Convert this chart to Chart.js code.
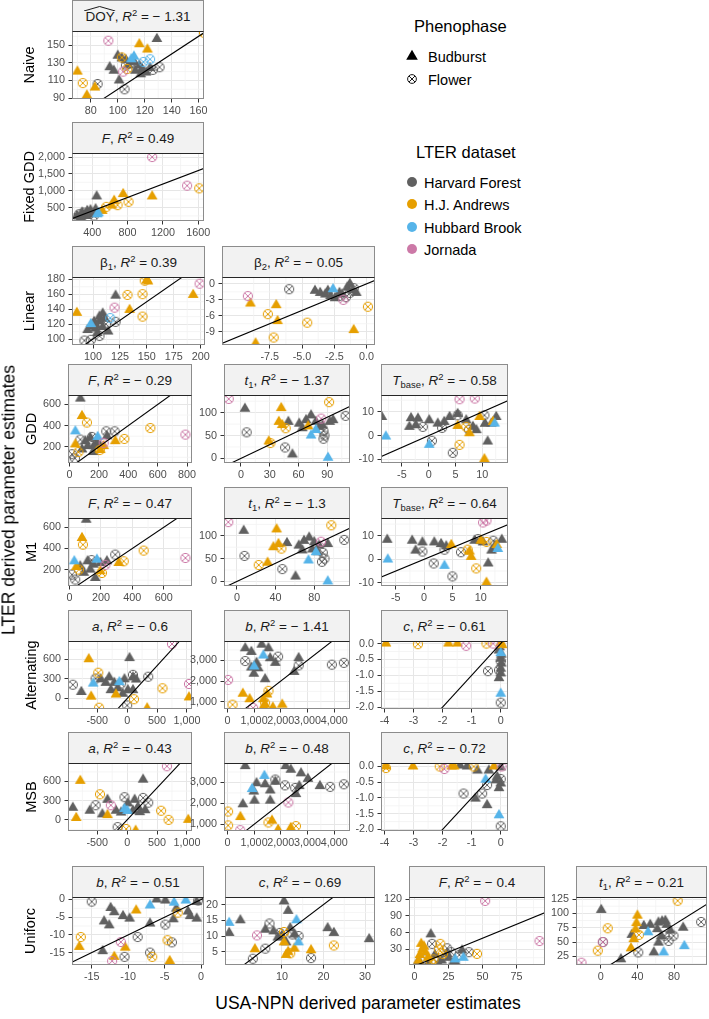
<!DOCTYPE html>
<html>
<head>
<meta charset="utf-8">
<script src="https://cdn.jsdelivr.net/npm/chart.js@4.4.1/dist/chart.umd.min.js"></script>
<style>
  html, body { margin:0; padding:0; background:#fff; }
  #fig { position:relative; width:709px; height:1019px; overflow:hidden; font-family:"Liberation Sans", Arial, sans-serif; color:#000; }
  #fig canvas { position:absolute; }
  .strip { position:absolute; box-sizing:border-box; background:#f2f2f2; border:1px solid #8c8c8c; border-bottom:1.5px solid #262626;
           display:flex; align-items:center; justify-content:center; font-size:13.5px; color:#1a1a1a; white-space:nowrap; }
  .strip sup { font-size:70%; line-height:0; vertical-align:0.55em; }
  .strip sub { font-size:70%; line-height:0; vertical-align:-0.3em; }
  .hat { position:relative; display:inline-block; }
  .hat svg { position:absolute; left:-1px; top:-3px; width:calc(100% + 2px); height:5px; }
  .vlab { position:absolute; white-space:nowrap; transform:translate(-50%,-50%) rotate(-90deg); }
  .lab { position:absolute; white-space:nowrap; }
</style>
</head>
<body>
<div id="fig"></div>
<script>
/* ---------- data: [x (USA-NPN), y (LTER), site+phase] ----------
   site: H = Harvard Forest, A = H.J. Andrews, B = Hubbard Brook, J = Jornada
   phase: b = Budburst, f = Flower */

const rowLabels  = ['Naive', 'Fixed GDD', 'Linear', 'GDD', 'M1', 'Alternating', 'MSB', 'Uniforc'];
const siteNames  = ['Harvard Forest', 'H.J. Andrews', 'Hubbard Brook', 'Jornada'];
const phaseNames = ['Budburst', 'Flower'];

const hat = '<span class="hat">DOY<svg viewBox="0 0 100 10" preserveAspectRatio="none"><polyline points="0,10 50,1 100,10" fill="none" stroke="#1a1a1a" stroke-width="1" vector-effect="non-scaling-stroke"/></svg></span>';
const R2 = '<i>R</i><sup>2</sup>';
const stripTitles = [
  hat + ', ' + R2 + ' = &minus; 1.31',
  '<i>F</i>, ' + R2 + ' = 0.49',
  '&beta;<sub>1</sub>, ' + R2 + ' = 0.39',
  '&beta;<sub>2</sub>, ' + R2 + ' = &minus; 0.05',
  '<i>F</i>, ' + R2 + ' = &minus; 0.29',
  '<i>t</i><sub>1</sub>, ' + R2 + ' = &minus; 1.37',
  '<i>T</i><sub>base</sub>, ' + R2 + ' = &minus; 0.58',
  '<i>F</i>, ' + R2 + ' = &minus; 0.47',
  '<i>t</i><sub>1</sub>, ' + R2 + ' = &minus; 1.3',
  '<i>T</i><sub>base</sub>, ' + R2 + ' = &minus; 0.64',
  '<i>a</i>, ' + R2 + ' = &minus; 0.6',
  '<i>b</i>, ' + R2 + ' = &minus; 1.41',
  '<i>c</i>, ' + R2 + ' = &minus; 0.61',
  '<i>a</i>, ' + R2 + ' = &minus; 0.43',
  '<i>b</i>, ' + R2 + ' = &minus; 0.48',
  '<i>c</i>, ' + R2 + ' = &minus; 0.72',
  '<i>b</i>, ' + R2 + ' = &minus; 0.51',
  '<i>c</i>, ' + R2 + ' = &minus; 0.69',
  '<i>F</i>, ' + R2 + ' = &minus; 0.4',
  '<i>t</i><sub>1</sub>, ' + R2 + ' = &minus; 0.21'
];

const naiveDOY = [[93,155,'Jf'],[70,120,'Ab'],[74,107,'Af'],[77,93,'Ab'],[83,102,'Ab'],[85,106,'Hf'],[116,151,'Ab'],[122,145,'Ab'],[129,157,'Hb'],[164,164,'Af'],
  [94,125,'Hb'],[97,121,'Hb'],[101,110,'Hb'],[100,138,'Hb'],[106,133,'Hb'],[103,135,'Hb'],[108,127,'Hb'],[112,131,'Hb'],[116,127,'Hb'],[118,123,'Hb'],
  [121,119,'Hb'],[124,124,'Hb'],[113,121,'Hb'],[117,117,'Hb'],[105,100,'Hf'],[106,127,'Hf'],[131,125,'Hf'],[126,122,'Hf'],[110,130,'Hf'],[107,123,'Af'],
  [103,136,'Af'],[112,137,'Bb'],[124,134,'Bf'],[110,134,'Bb'],[104,120,'Jf'],[119,131,'Bf']];
const naiveDOY_xTicks = [80, 100, 120, 140, 160];
const naiveDOY_yTicks = [90, 110, 130, 150];

const fixedF = [[1078,2000,'Jf'],[1474,1150,'Jf'],[1611,1070,'Af'],[1078,830,'Ab'],[750,900,'Ab'],[811,670,'Af'],[648,700,'Ab'],[686,570,'Af'],[514,400,'Ab'],
  [560,520,'Af'],[620,560,'Ab'],[450,830,'Hb'],[229,250,'Hb'],[286,350,'Hb'],[343,400,'Hb'],[400,300,'Hb'],[267,200,'Hb'],[320,280,'Hb'],[438,450,'Hb'],
  [380,420,'Hb'],[250,300,'Hf'],[300,350,'Hf'],[210,180,'Hf'],[360,330,'Hf'],[420,260,'Hf'],[457,300,'Bb'],[470,330,'Bb'],[330,250,'Hb'],[280,220,'Hf']];
const fixedF_xTicks = [400, 800, 1200, 1600];
const fixedF_yTicks = [500, 1000, 1500, 2000];

const linB1 = [[85,135,'Ab'],[150,179,'Ab'],[151,177,'Ab'],[148,178,'Af'],[199,174,'Jf'],[193,159,'Ab'],[132,159,'Af'],[146,160,'Af'],[121,158,'Hb'],[120,142,'Jf'],
  [134,139,'Ab'],[146,130,'Af'],[100,117,'Hb'],[101,123,'Hb'],[106,130,'Hb'],[109,134,'Hb'],[106,124,'Hb'],[102,114,'Hb'],[109,116,'Hb'],[114,110,'Hb'],
  [95,112,'Hb'],[104,108,'Hb'],[111,127,'Hb'],[98,120,'Bb'],[116,128,'Bf'],[92,98,'Hf'],[98,99,'Hf'],[106,104,'Hf'],[121,123,'Hf'],[112,120,'Hf'],[103,118,'Hb']];
const linB1_xTicks = [100, 125, 150, 175, 200];
const linB1_yTicks = [100, 120, 140, 160, 180];

const linB2 = [[-9.2,-2.3,'Jf'],[-9,-3.7,'Ab'],[-8.6,-11.2,'Ab'],[-7.65,-5.7,'Af'],[-7,-4,'Ab'],[-6.9,-7,'Ab'],[-7.2,-10.1,'Af'],[-6,-1,'Hf'],[-4.6,-7.3,'Af'],
  [-1,-8.7,'Ab'],[0.1,-4.3,'Af'],[-1.8,-3,'Jf'],[-4,-1.3,'Hb'],[-3.6,-1.7,'Hb'],[-3.2,-2,'Hb'],[-2.8,-2.3,'Hb'],[-2.45,-2.7,'Hb'],[-2.1,-1.7,'Hb'],
  [-1.5,-0.7,'Hb'],[-1.3,0,'Hb'],[-1.1,-1.2,'Hb'],[-1.9,-2,'Hb'],[-3,-1.3,'Hb'],[-0.8,-1.7,'Hb'],[-2.6,-1,'Bb'],[-2.1,-2.3,'Hf'],[-1.3,-1.7,'Hf'],
  [-1,-0.8,'Hf'],[-1.6,-2.5,'Hf']];
const linB2_xTicks = [-7.5, -5, -2.5, 0];
const linB2_yTicks = [-9, -6, -3, 0];

const gddF = [[73,656,'Hb'],[84,491,'Ab'],[118,429,'Af'],[373,274,'Af'],[550,377,'Af'],[789,315,'Jf'],[39,346,'Bb'],[39,222,'Ab'],[191,293,'Bb'],
  [107,253,'Hb'],[141,284,'Hb'],[186,237,'Hb'],[164,206,'Hb'],[255,299,'Hb'],[123,206,'Hb'],[84,175,'Hb'],[209,206,'Hb'],[160,150,'Hb'],
  [73,268,'Hf'],[152,293,'Hf'],[250,346,'Hf'],[307,346,'Hf'],[16,129,'Hf'],[36,90,'Hf'],[232,206,'Ab'],[311,253,'Ab'],[209,169,'Ab'],[205,169,'Af'],
  [60,150,'Af'],[232,237,'Jf']];
const gddF_xTicks = [0, 200, 400, 600, 800];
const gddF_yTicks = [200, 400, 600];

const gddT1 = [[-12.7,130,'Jf'],[4.2,108.6,'Hb'],[6,57,'Hf'],[29,37,'Ab'],[30.7,33.6,'Af'],[42,110,'Ab'],[39.5,80,'Ab'],[43,73,'Ab'],[46.6,66,'Af'],[49.4,80,'Hb'],
  [46,24,'Hf'],[53.6,8.6,'Hb'],[60.7,76,'Hb'],[67.8,83.6,'Hb'],[73,94,'Hb'],[78,80,'Hb'],[82,69,'Hb'],[92.5,80,'Hb'],[64,66,'Hb'],[85,72,'Hb'],[96,83.6,'Hb'],
  [83.6,87,'Jf'],[73,50,'Bb'],[90.7,1.4,'Bb'],[78,62,'Bb'],[86,60,'Hf'],[87,50,'Hf'],[86,43,'Hf'],[109,93,'Hf'],[91.8,123,'Af'],[70,70,'Ab']];
const gddT1_xTicks = [0, 30, 60, 90];
const gddT1_yTicks = [0, 50, 100];

const gddTbase = [[-8.75,7.9,'Hb'],[-8,-0.4,'Bb'],[-3.3,7.4,'Hb'],[-2,7.2,'Hb'],[-3.6,3.7,'Hb'],[-2.4,4.4,'Hb'],[-1.1,3.7,'Hf'],[0.6,-2.2,'Hf'],[4.5,-7.3,'Hf'],
  [2.5,3.3,'Hf'],[0.1,6.5,'Hb'],[1.7,5.1,'Hb'],[2.9,5.8,'Hb'],[3.9,7.9,'Hb'],[5.4,9.2,'Hb'],[7,6.5,'Hb'],[8.25,3.7,'Hb'],[8.9,2.3,'Hb'],[11,-2.5,'Hb'],
  [11.7,5.1,'Hb'],[12.6,7.9,'Hb'],[10.5,5,'Hb'],[0.1,-3.9,'Bb'],[12.3,5.1,'Bb'],[5.4,4.1,'Ab'],[7.6,1,'Ab'],[9.5,7.9,'Ab'],[10.4,-10,'Ab'],[12,5.8,'Ab'],
  [5.75,-3.9,'Af'],[7,3.7,'Af'],[5.75,15.4,'Jf'],[8.6,15.7,'Jf'],[5.4,8.6,'Hf'],[10.4,8.6,'Hf'],[7.5,2.5,'Hf']];
const gddTbase_xTicks = [-5, 0, 5, 10];
const gddTbase_yTicks = [-10, 0, 10];

const m1F = [[106,672,'Hb'],[79,499,'Ab'],[85,436,'Af'],[472,380,'Af'],[738,310,'Jf'],[30,279,'Bb'],[43,225,'Ab'],[174,294,'Bb'],[291,342,'Hf'],[345,279,'Af'],
  [313,263,'Ab'],[115,279,'Hb'],[153,247,'Hb'],[196,263,'Hb'],[238,279,'Hb'],[132,200,'Hb'],[164,121,'Hb'],[68,231,'Hb'],[90,170,'Hb'],[196,184,'Ab'],
  [206,168,'Af'],[15,153,'Hf'],[36,106,'Hf'],[228,245,'Jf'],[140,290,'Hf'],[60,200,'Af']];
const m1F_xTicks = [0, 200, 400, 600];
const m1F_yTicks = [200, 400, 600];

const m1T1 = [[-9,130,'Jf'],[7,111,'Hb'],[7.8,56,'Hf'],[22.5,36,'Af'],[31.7,41,'Ab'],[41,114,'Ab'],[37.7,75,'Ab'],[43,82,'Ab'],[46,72,'Af'],[51.8,84,'Hb'],
  [47,27,'Hf'],[60.6,10.7,'Hb'],[64,78.6,'Hb'],[69.4,89,'Hb'],[74.7,96,'Hb'],[80,86,'Hb'],[85,78.6,'Hb'],[94,82,'Hb'],[67.7,68,'Hb'],[83.5,64,'Hb'],[78,70,'Hb'],
  [87,87,'Jf'],[74,46,'Bb'],[94,0,'Bb'],[81.8,64,'Bb'],[88.8,63,'Hf'],[90.6,50,'Hf'],[88,43,'Hf'],[111,91,'Hf'],[97.6,123,'Af']];
const m1T1_xTicks = [0, 40, 80];
const m1T1_yTicks = [0, 50, 100];

const m1Tbase = [[-6.5,8.3,'Hb'],[-6.4,-0.1,'Bb'],[-2.1,7.9,'Hb'],[-0.3,7.2,'Hb'],[-1.5,3.7,'Hb'],[1.8,7.2,'Hb'],[3.9,5.5,'Hb'],[3,6.5,'Hb'],[8.9,7.9,'Hb'],
  [10.4,7.2,'Hb'],[11.9,3.7,'Hb'],[11.3,-1.8,'Hb'],[13.7,8.3,'Hb'],[12.5,5.8,'Hb'],[-0.3,3.3,'Hf'],[1.7,-1.8,'Hf'],[5,-7.3,'Hf'],[3.6,4.1,'Hf'],[6.5,3,'Hf'],
  [9.5,8.6,'Hf'],[12.2,7.9,'Hf'],[3.6,-2.8,'Bb'],[13,4.4,'Bb'],[4.8,6.1,'Ab'],[8,3.3,'Ab'],[8.3,1,'Ab'],[10,7.9,'Ab'],[11,-10,'Ab'],[12.8,6.1,'Ab'],
  [7.7,4.1,'Af'],[9.2,-3.9,'Af'],[11,7.4,'Af'],[10.4,15.7,'Jf'],[11,16.5,'Jf']];
const m1Tbase_xTicks = [-5, 0, 5, 10];
const m1Tbase_yTicks = [-10, 0, 10];

const altA = [[-909,211,'Hf'],[-767,100,'Hb'],[-642,600,'Ab'],[-602,28,'Ab'],[-568,228,'Bb'],[-528,305,'Hf'],[-483,394,'Af'],[-443,294,'Hb'],[-358,239,'Hb'],
  [-273,128,'Hb'],[-216,239,'Hb'],[-301,322,'Hb'],[-159,156,'Hb'],[-45,294,'Hb'],[40,617,'Hb'],[97,322,'Hb'],[150,290,'Hb'],[11,128,'Hb'],[-74,72,'Hb'],
  [97,128,'Hb'],[-187,61,'Ab'],[-130,250,'Bb'],[97,361,'Hf'],[352,333,'Hf'],[0,-105,'Hf'],[114,-11,'Af'],[591,156,'Af'],[750,833,'Jf'],[1034,222,'Jf'],
  [1034,17,'Ab'],[-470,-140,'Af'],[335,-150,'Ab'],[-100,230,'Hf']];
const altA_xTicks = [-500, 0, 500, 1000];
const altA_yTicks = [0, 300, 600];

const altB = [[26,2053,'Jf'],[192,860,'Af'],[577,1386,'Ab'],[833,1123,'Ab'],[667,3579,'Hb'],[897,3403,'Hb'],[1282,3754,'Hb'],[1538,3579,'Hb'],[1090,2877,'Hb'],
  [987,2351,'Hb'],[1410,2088,'Hb'],[1795,2877,'Hb'],[1154,2614,'Hb'],[897,2650,'Hb'],[1600,3100,'Hb'],[667,2965,'Hf'],[1897,3175,'Hf'],[1346,3228,'Bb'],
  [1000,2700,'Bb'],[1538,1526,'Af'],[1410,947,'Af'],[1346,1123,'Ab'],[1410,860,'Ab'],[2051,860,'Ab'],[1480,1350,'Ab'],[2667,3105,'Hb'],[2500,2439,'Hb'],
  [2667,2754,'Hf'],[3910,2789,'Hf'],[4359,2877,'Hf'],[961,700,'Jf'],[1350,760,'Ab'],[1700,720,'Ab']];
const altB_xTicks = [0, 1000, 2000, 3000, 4000];
const altB_yTicks = [1000, 2000, 3000];

const altC = [[-3.95,0,'Ab'],[-2.85,-0.02,'Af'],[-1.8,0,'Ab'],[-1.49,0,'Ab'],[-1.19,-0.07,'Jf'],[-0.49,0,'Af'],[-0.26,0,'Jf'],[0,0.02,'Ab'],[0.05,-0.05,'Ab'],
  [-0.06,-0.22,'Hb'],[0,-0.48,'Hb'],[0.02,-0.63,'Hb'],[0,-0.79,'Hb'],[0,-0.94,'Hb'],[-0.06,-1.09,'Hb'],[0.02,-0.35,'Hb'],[-0.04,-0.12,'Hb'],
  [-0.44,-0.87,'Hf'],[-0.06,-0.84,'Hf'],[0,-0.55,'Hf'],[0,-1.58,'Bb'],[0,-0.3,'Bb'],[0,-1.86,'Hf']];
const altC_xTicks = [-4, -3, -2, -1, 0];
const altC_yTicks = [-2, -1.5, -1, -0.5, 0];

const msbA = [[-909,189,'Hb'],[-784,611,'Ab'],[-852,29,'Ab'],[-625,143,'Hb'],[-528,229,'Hf'],[-455,400,'Af'],[-273,229,'Jf'],[-330,314,'Hb'],[-415,86,'Hb'],
  [-187,143,'Hb'],[11,257,'Hb'],[125,314,'Hb'],[180,200,'Hb'],[267,629,'Hb'],[-102,114,'Hb'],[97,143,'Hb'],[210,120,'Hb'],[300,150,'Hb'],[-45,171,'Bb'],
  [5,140,'Bb'],[-330,74,'Ab'],[-45,354,'Hf'],[267,343,'Hf'],[352,269,'Hf'],[-159,-114,'Hf'],[-17,-143,'Af'],[568,143,'Af'],[693,0,'Af'],[665,840,'Jf'],
  [1023,0,'Ab'],[142,-171,'Ab']];
const msbA_xTicks = [-500, 0, 500, 1000];
const msbA_yTicks = [0, 300, 600];

const msbB = [[667,3783,'Hb'],[1385,3313,'Bb'],[923,2687,'Bb'],[1090,2965,'Hb'],[987,2565,'Hb'],[1013,2130,'Hb'],[1603,2617,'Hb'],[1795,3035,'Hb'],[2180,3783,'Hb'],
  [2372,3609,'Hb'],[2756,3435,'Hb'],[3013,3174,'Hb'],[2692,2826,'Hb'],[3462,2826,'Hb'],[2564,2443,'Hb'],[1603,2130,'Hb'],[1410,2913,'Hb'],[577,1957,'Hb'],
  [1795,3139,'Hf'],[2154,2861,'Hf'],[2539,2739,'Hf'],[3846,2791,'Hf'],[4359,2913,'Hf'],[2282,2043,'Jf'],[26,1609,'Af'],[26,948,'Af'],[1538,1087,'Af'],
  [487,1348,'Ab'],[1667,1174,'Ab'],[1897,739,'Ab'],[2372,826,'Ab'],[2564,913,'Af'],[480,720,'Jf']];
const msbB_xTicks = [0, 1000, 2000, 3000, 4000];
const msbB_yTicks = [1000, 2000, 3000];

const msbC = [[-3.95,0,'Ab'],[-3.95,-0.05,'Af'],[-3.02,0,'Ab'],[-2.1,0,'Af'],[-1.94,-0.08,'Jf'],[-1.69,0,'Ab'],[-1.6,0,'Ab'],[-1.4,0.03,'Hb'],[-1.16,0,'Hb'],
  [-0.8,-0.13,'Hb'],[-0.41,-0.13,'Hb'],[0,-0.03,'Hb'],[-0.17,-0.44,'Hb'],[0,-0.54,'Hb'],[-0.06,-0.69,'Hb'],[-0.12,-0.33,'Hb'],[-0.93,0,'Af'],[-0.23,0,'Ab'],
  [-0.47,-0.59,'Hf'],[-1.28,-0.86,'Hf'],[-0.64,-0.86,'Hf'],[0,-0.4,'Hf'],[-0.87,-1.02,'Hb'],[-0.47,-1.23,'Hb'],[-0.52,-0.42,'Bb'],[-0.06,-1.55,'Bb'],
  [0,-1.9,'Hf'],[0.03,0,'Jf']];
const msbC_xTicks = [-4, -3, -2, -1, 0];
const msbC_yTicks = [-2, -1.5, -1, -0.5, 0];

const uniB = [[-15,-0.6,'Hf'],[-12.4,-2.4,'Hb'],[-11.9,-3.6,'Hb'],[-13.3,-6.2,'Hb'],[-12.6,-7.3,'Hb'],[-10.7,-4.7,'Hb'],[-9.8,-5.4,'Hb'],[-6.1,0,'Hb'],
  [-4.9,-0.3,'Hb'],[-3.4,-2.6,'Hb'],[-1.8,-3.4,'Hb'],[-1.5,-4.7,'Hb'],[-0.6,-5.4,'Hb'],[-0.6,-0.7,'Hb'],[-3.8,-5.6,'Hb'],[-7,-6.8,'Hb'],[-13.5,-14.6,'Hb'],
  [-8.9,-3.1,'Ab'],[-16.7,-13.4,'Ab'],[-10.4,-13.6,'Ab'],[-11.9,-16.2,'Ab'],[-4.3,-17.4,'Ab'],[-7,-1.7,'Bb'],[-3.7,-0.9,'Bb'],[-2.1,-0.3,'Bb'],
  [-16.5,-10.6,'Af'],[-3.2,-3.7,'Af'],[-4.6,-11.5,'Af'],[-6.7,-16.2,'Af'],[-8.7,-10.6,'Hf'],[-10.5,-16.2,'Hf'],[-7,-15,'Hf'],[-4.9,-7.1,'Hf'],
  [-4,-12.1,'Hf'],[-0.4,-0.3,'Hf'],[-11,-12,'Jf'],[-12.2,-17.4,'Jf']];
const uniB_xTicks = [-15, -10, -5, 0];
const uniB_yTicks = [-15, -10, -5, 0];

const uniC = [[-2.7,14.2,'Bb'],[0,15,'Hb'],[-2.7,11,'Hb'],[4,10.2,'Jf'],[3.5,5.8,'Ab'],[3,2.8,'Hf'],[6,6,'Hf'],[6,12,'Hb'],[8,11.5,'Hb'],[9,9.5,'Hb'],
  [10.5,21,'Hb'],[11.5,18,'Hb'],[12,12.5,'Hb'],[13,10.5,'Hb'],[10,10,'Hb'],[11,8,'Hb'],[7,14,'Hf'],[9.5,11,'Hf'],[12.5,10.5,'Hf'],[14,10,'Hf'],[13.5,15,'Bb'],
  [14,8,'Bb'],[10.5,11.3,'Af'],[12,4.5,'Af'],[22.5,7,'Af'],[10.5,8,'Ab'],[11.5,5,'Ab'],[13,6,'Ab'],[17,5.5,'Ab'],[11,4,'Ab'],[21,12.5,'Hb'],[22.5,11,'Hb'],
  [31,9,'Hb'],[17,3,'Hf']];
const uniC_xTicks = [10, 20, 30];
const uniC_yTicks = [5, 10, 15, 20];

const uniF = [[52,117,'Jf'],[92,45,'Jf'],[46,22,'Af'],[12,57,'Hb'],[5,40,'Ab'],[6,30,'Ab'],[8,25,'Ab'],[4,20,'Ab'],[3,10,'Ab'],[10,15,'Ab'],[7,35,'Ab'],
  [19,40,'Af'],[18,30,'Af'],[21,22,'Af'],[14,12,'Af'],[12,8,'Af'],[15,20,'Hb'],[20,10,'Hb'],[25,15,'Hb'],[30,8,'Hb'],[35,28,'Hb'],[28,5,'Hb'],[18,3,'Hb'],
  [10,3,'Hb'],[2,5,'Hb'],[5,2,'Hb'],[24,22,'Hb'],[13,40,'Hf'],[24,32,'Hf'],[33,20,'Hf'],[8,12,'Hf'],[16,8,'Hf'],[27,25,'Hf'],[40,25,'Hf'],[36,15,'Bb'],[30,12,'Bb']];
const uniF_xTicks = [0, 25, 50, 75];
const uniF_yTicks = [30, 60, 90, 120];

const uniT1 = [[-21,14,'Jf'],[0.5,106,'Hb'],[7.6,74,'Af'],[2.2,50,'Jf'],[2.5,50,'Hf'],[-3.2,35,'Af'],[22,20,'Hb'],[40,96,'Ab'],[39,83,'Ab'],[38,72,'Ab'],
  [33,39,'Ab'],[36,55,'Ab'],[33.9,62.6,'Hb'],[41.7,62.6,'Af'],[41,32,'Hf'],[47,78,'Hb'],[54,80,'Hb'],[63,84,'Hb'],[67,86,'Hb'],[70.5,87,'Hb'],[61.7,72.5,'Hb'],
  [72,80,'Hb'],[76,70,'Hb'],[63,49,'Hb'],[58,32,'Hb'],[90,75,'Hb'],[66,60,'Hb'],[51.7,67,'Bb'],[68.7,32,'Bb'],[91.3,43,'Bb'],[69.7,61,'Hf'],[79.4,61,'Hf'],
  [74,52,'Hf'],[84,122,'Af'],[109.6,85,'Hf']];
const uniT1_xTicks = [0, 40, 80];
const uniT1_yTicks = [25, 50, 75, 100, 125];

// xr / yr = axis limits; fx / fy = [decimals, thousands comma]
const panels = [
  { row:0, col:0, pts:naiveDOY, xt:naiveDOY_xTicks, yt:naiveDOY_yTicks, xr:[66,164],     yr:[89,166],      fx:[0,false], fy:[0,false] },
  { row:1, col:0, pts:fixedF,   xt:fixedF_xTicks,   yt:fixedF_yTicks,   xr:[171,1665],   yr:[100,2120],    fx:[0,false], fy:[0,true]  },
  { row:2, col:0, pts:linB1,    xt:linB1_xTicks,    yt:linB1_yTicks,    xr:[80.5,204],   yr:[92,183],      fx:[0,false], fy:[0,false] },
  { row:2, col:1, pts:linB2,    xt:linB2_xTicks,    yt:linB2_yTicks,    xr:[-11.2,0.65], yr:[-11.5,1.3],   fx:[1,false], fy:[0,false] },
  { row:3, col:0, pts:gddF,     xt:gddF_xTicks,     yt:gddF_yTicks,     xr:[-11,834],    yr:[46,690],      fx:[0,false], fy:[0,false] },
  { row:3, col:1, pts:gddT1,    xt:gddT1_xTicks,    yt:gddT1_yTicks,    xr:[-17.6,113.6],yr:[-10,138.6],   fx:[0,false], fy:[0,false] },
  { row:3, col:2, pts:gddTbase, xt:gddTbase_xTicks, yt:gddTbase_yTicks, xr:[-8.9,14.8],  yr:[-11.6,17.2],  fx:[0,false], fy:[0,false] },
  { row:4, col:0, pts:m1F,      xt:m1F_xTicks,      yt:m1F_yTicks,      xr:[-10,780],    yr:[45,688],      fx:[0,false], fy:[0,false] },
  { row:4, col:1, pts:m1T1,     xt:m1T1_xTicks,     yt:m1T1_yTicks,     xr:[-13.4,117],  yr:[-10,139],     fx:[0,false], fy:[0,false] },
  { row:4, col:2, pts:m1Tbase,  xt:m1Tbase_xTicks,  yt:m1Tbase_yTicks,  xr:[-7.6,14.8],  yr:[-11.4,17.6],  fx:[0,false], fy:[0,false] },
  { row:5, col:0, pts:altA,     xt:altA_xTicks,     yt:altA_yTicks,     xr:[-990,1085],  yr:[-160,878],    fx:[0,true],  fy:[0,false] },
  { row:5, col:1, pts:altB,     xt:altB_xTicks,     yt:altB_yTicks,     xr:[-128,4590],  yr:[650,3930],    fx:[0,true],  fy:[0,true]  },
  { row:5, col:2, pts:altC,     xt:altC_xTicks,     yt:altC_yTicks,     xr:[-4.12,0.25], yr:[-2.06,0.08],  fx:[0,false], fy:[1,false] },
  { row:6, col:0, pts:msbA,     xt:msbA_xTicks,     yt:msbA_yTicks,     xr:[-990,1085],  yr:[-175,890],    fx:[0,true],  fy:[0,false] },
  { row:6, col:1, pts:msbB,     xt:msbB_xTicks,     yt:msbB_yTicks,     xr:[-128,4590],  yr:[680,3930],    fx:[0,true],  fy:[0,true]  },
  { row:6, col:2, pts:msbC,     xt:msbC_xTicks,     yt:msbC_yTicks,     xr:[-4.12,0.25], yr:[-2.05,0.11],  fx:[0,false], fy:[1,false] },
  { row:7, col:0, pts:uniB,     xt:uniB_xTicks,     yt:uniB_yTicks,     xr:[-17.7,0.4],  yr:[-18.5,0.7],   fx:[0,false], fy:[0,false] },
  { row:7, col:1, pts:uniC,     xt:uniC_xTicks,     yt:uniC_yTicks,     xr:[-3.7,32.4],  yr:[0.8,22.4],    fx:[0,false], fy:[0,false] },
  { row:7, col:2, pts:uniF,     xt:uniF_xTicks,     yt:uniF_yTicks,     xr:[-4,96],      yr:[2,124],       fx:[0,false], fy:[0,false] },
  { row:7, col:3, pts:uniT1,    xt:uniT1_xTicks,    yt:uniT1_yTicks,    xr:[-27,116],    yr:[10,128.5],    fx:[0,false], fy:[0,false] }
];

/* ---------- layout ---------- */
const ROW_TOP = [0, 122, 246, 364, 487, 610, 732, 866];
const STRIP_H = 31, PLOT_H = 68;
const ROW_COLS = [
  [[72,204]],
  [[72,204]],
  [[72,205],[222,375]],
  [[68,192],[224,350],[381,508]],
  [[68,192],[224,350],[381,508]],
  [[68,192],[224,350],[381,508]],
  [[68,192],[224,350],[381,508]],
  [[72,204],[225,375],[409,545],[576,707]]
];
const ROW_LAB_X = [29, 29, 29, 31, 31, 31, 31, 30];
const YW = 50, PADT = 6, PADR = 16, XH = 22;
const FONT = 'Liberation Sans';
const COLORS = { H:'#606060', A:'#E69F00', B:'#56B4E9', J:'#CC79A7' };

const fig = document.getElementById('fig');

function fmt(v, dec, comma) {
  const a = Math.abs(v);
  const s = comma ? a.toLocaleString('en-US', { minimumFractionDigits:dec, maximumFractionDigits:dec }) : a.toFixed(dec);
  return (v < 0 ? '-' : '') + s;
}

function marker(color, phase) {
  const c = document.createElement('canvas');
  c.width = c.height = 14;
  const g = c.getContext('2d');
  if (phase === 'b') {
    const s = 10.8, h = s * Math.sqrt(3) / 2;
    g.fillStyle = color;
    g.beginPath();
    g.moveTo(7, 7 - 2 * h / 3);
    g.lineTo(7 + s / 2, 7 + h / 3);
    g.lineTo(7 - s / 2, 7 + h / 3);
    g.closePath();
    g.fill();
  } else {
    const r = 4.6, d = r * 0.72;
    g.strokeStyle = color;
    g.lineWidth = 1;
    g.beginPath(); g.arc(7, 7, r, 0, Math.PI * 2); g.stroke();
    g.beginPath();
    g.moveTo(7 - d, 7 - d); g.lineTo(7 + d, 7 + d);
    g.moveTo(7 + d, 7 - d); g.lineTo(7 - d, 7 + d);
    g.stroke();
  }
  return c;
}
const MARKS = {};
for (const s of 'HABJ') for (const ph of 'bf') MARKS[s + ph] = marker(COLORS[s], ph);

// minor grid lines + panel border, ggplot style
const panelDeco = {
  id: 'panelDeco',
  beforeDatasetsDraw(chart) {
    const { ctx, chartArea: a, scales } = chart;
    ctx.save();
    ctx.strokeStyle = '#f3f3f3';
    ctx.lineWidth = 0.8;
    for (const id of ['x', 'y']) {
      const sc = scales[id];
      const t = sc.ticks.map(k => k.value);
      const d = t[1] - t[0];
      for (let v = t[0] - d / 2; v <= sc.max; v += d) {
        if (v < sc.min) continue;
        const p = sc.getPixelForValue(v);
        ctx.beginPath();
        if (id === 'x') { ctx.moveTo(p, a.top); ctx.lineTo(p, a.bottom); }
        else { ctx.moveTo(a.left, p); ctx.lineTo(a.right, p); }
        ctx.stroke();
      }
    }
    ctx.restore();
  },
  afterDatasetsDraw(chart) {
    const { ctx, chartArea: a } = chart;
    ctx.save();
    ctx.strokeStyle = '#8c8c8c';
    ctx.lineWidth = 1;
    ctx.strokeRect(a.left + 0.5, a.top + 0.5, a.right - a.left - 1, a.bottom - a.top - 1);
    ctx.restore();
  }
};

function axis(range, ticks, f, dir) {
  return {
    type: 'linear', min: range[0], max: range[1],
    afterBuildTicks: s => { s.ticks = ticks.map(v => ({ value: v })); },
    afterFit: s => {
      if (dir === 'x') s.height = XH; else s.width = YW;
      s.paddingLeft = s.paddingRight = s.paddingTop = s.paddingBottom = 0;
    },
    border: { display: false },
    grid: { color: '#e6e6e6', lineWidth: 1, drawTicks: true, tickLength: 3.5, tickColor: '#333', tickWidth: 1 },
    ticks: {
      color: '#4d4d4d', font: { size: 10.8, family: FONT },
      padding: dir === 'x' ? 2.5 : 3.5,
      autoSkip: false, maxRotation: 0, minRotation: 0,
      callback: v => fmt(v, f[0], f[1])
    }
  };
}

const DRAW_ORDER = ['Jf', 'Jb', 'Bf', 'Bb', 'Af', 'Ab', 'Hf', 'Hb'];

panels.forEach((p, i) => {
  const [L, R] = ROW_COLS[p.row][p.col];
  const top = ROW_TOP[p.row];
  const T = top + STRIP_H;

  const cv = document.createElement('canvas');
  const w = R - L + YW + PADR, h = PLOT_H + PADT + XH;
  cv.width = w; cv.height = h;
  cv.style.left = (L - YW) + 'px';
  cv.style.top = (T - PADT) + 'px';
  cv.style.width = w + 'px';
  cv.style.height = h + 'px';
  fig.appendChild(cv);

  const lo = Math.min(p.xr[0], p.yr[0]), hi = Math.max(p.xr[1], p.yr[1]);
  const datasets = [{
    type: 'line', data: [{ x: lo, y: lo }, { x: hi, y: hi }],
    borderColor: '#000', borderWidth: 1.1, pointRadius: 0, clip: 0
  }];
  for (const code of DRAW_ORDER) {
    const pts = p.pts.filter(d => d[2] === code).map(d => ({ x: d[0], y: d[1] }));
    if (pts.length) datasets.push({ data: pts, pointStyle: MARKS[code], pointRadius: 5, clip: 0 });
  }

  new Chart(cv, {
    type: 'scatter',
    data: { datasets },
    options: {
      responsive: false, animation: false, devicePixelRatio: 1, events: [],
      layout: { padding: { left: 0, top: PADT, right: PADR, bottom: 0 } },
      plugins: { legend: { display: false }, tooltip: { enabled: false } },
      scales: { x: axis(p.xr, p.xt, p.fx, 'x'), y: axis(p.yr, p.yt, p.fy, 'y') }
    },
    plugins: [panelDeco]
  });

  const st = document.createElement('div');
  st.className = 'strip';
  st.style.left = L + 'px';
  st.style.top = top + 'px';
  st.style.width = (R - L) + 'px';
  st.style.height = (STRIP_H + 1) + 'px';
  st.innerHTML = '<span>' + stripTitles[i] + '</span>';
  fig.appendChild(st);
});

function text(cls, html, x, y, size, extra) {
  const d = document.createElement('div');
  d.className = cls;
  d.innerHTML = html;
  d.style.fontSize = size + 'px';
  d.style.lineHeight = Math.round(size * 1.2) + 'px';
  d.style.left = x + 'px';
  d.style.top = (cls === 'vlab' ? y : y - Math.round(size * 1.2) / 2) + 'px';
  if (extra) d.style.cssText += extra;
  fig.appendChild(d);
  return d;
}

rowLabels.forEach((lab, r) => text('vlab', lab, ROW_LAB_X[r], ROW_TOP[r] + STRIP_H + PLOT_H / 2, 14.5));
text('vlab', 'LTER derived parameter estimates', 9, 500, 17.5);
text('lab', 'USA-NPN derived parameter estimates', 368, 1003, 17.5, 'transform:translateX(-50%)');

// legends
text('lab', 'Phenophase', 414, 26, 16.5);
const triSvg = '<svg width="14" height="12" viewBox="0 0 14 12"><polygon points="7,0.8 12.8,10.8 1.2,10.8" fill="#000"/></svg>';
const flowerSvg = '<svg width="12" height="12" viewBox="0 0 12 12"><circle cx="6" cy="6" r="4.4" fill="none" stroke="#000" stroke-width="0.9"/><path d="M3,3 L9,9 M9,3 L3,9" stroke="#000" stroke-width="0.9"/></svg>';
text('lab', triSvg, 405, 56, 12);
text('lab', phaseNames[0], 428, 57, 14.5);
text('lab', flowerSvg, 406, 80, 12);
text('lab', phaseNames[1], 428, 80, 14.5);

text('lab', 'LTER dataset', 416, 152, 16.5);
const siteY = [183, 205, 228, 250];
siteNames.forEach((nm, k) => {
  const col = COLORS['HABJ'[k]];
  text('lab', `<svg width="12" height="12" viewBox="0 0 12 12"><circle cx="6" cy="6" r="5" fill="${col}"/></svg>`, 406, siteY[k], 12);
  text('lab', nm, 424, siteY[k], 14.5);
});
</script>
</body>
</html>
